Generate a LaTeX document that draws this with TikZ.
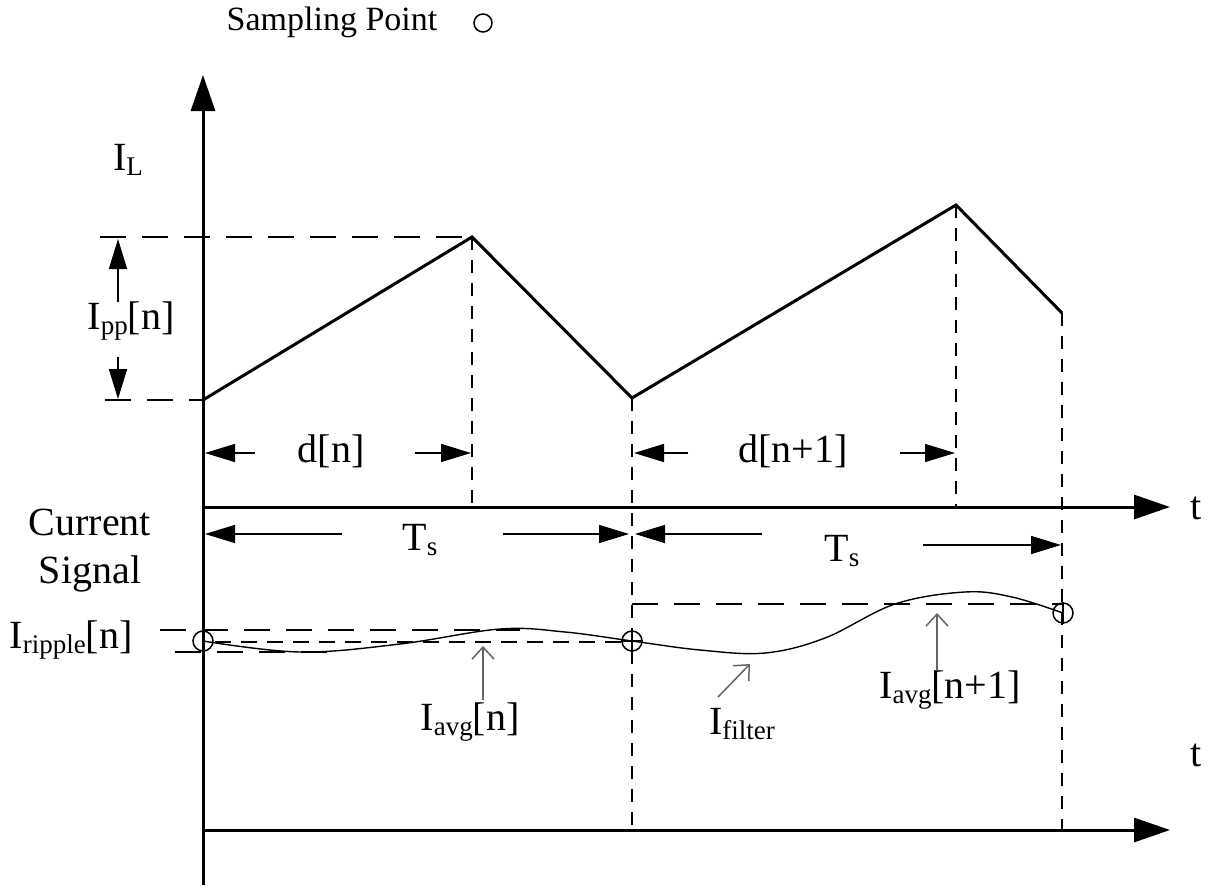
\documentclass[tikz,border=0pt]{standalone}
\usepackage{fontspec}
\setmainfont{Liberation Serif}
\usetikzlibrary{arrows.meta}
\newcommand\lo[1]{\raisebox{-0.3ex}{\fontsize{27}{30}\selectfont #1}}
\begin{document}
\begin{tikzpicture}[x=1pt,y=-1pt,
  axisline/.style={line width=3pt,-{Triangle[length=36pt,width=24pt]}},
  wave/.style={line width=3pt,line join=miter},
  hdash/.style={line width=2pt,dash pattern=on 26pt off 16pt},
  sdash/.style={line width=2pt,dash pattern=on 16pt off 10pt},
  vdash/.style={line width=2pt,dash pattern=on 13pt off 10pt},
  dimarrow/.style={line width=1.6pt,-{Triangle[length=30pt,width=18pt]}},
  pointer/.style={line width=1.5pt,black!60,-{Straight Barb[length=12pt,width=22pt]}},
  lbl/.style={font=\fontsize{40}{46}\selectfont,inner sep=0pt},
  sample/.style={circle,draw,line width=1.5pt,minimum size=20pt,inner sep=0pt}]
\useasboundingbox (0,0) rectangle (1210,886);
% axes
\coordinate (O) at (203,885);
\coordinate (Ytop) at (203,75);
\coordinate (A0) at (203,507);
\coordinate (A1) at (1170,507);
\coordinate (B0) at (203,830);
\coordinate (B1) at (1170,830);
\draw[axisline] (O) -- (Ytop);
\draw[axisline] (A0) -- (A1);
\draw[axisline] (B0) -- (B1);
% inductor current
\coordinate (p0) at (203,400);
\coordinate (p1) at (472,237);
\coordinate (p2) at (632,398);
\coordinate (p3) at (956,205);
\coordinate (p4) at (1062,313);
\draw[wave] (p0) -- (p1) -- (p2) -- (p3) -- (p4);
% dashed guides
\coordinate (h1) at (100,237);
\coordinate (h2) at (105,400);
\draw[hdash] (h1) -- (p1);
\draw[hdash] (h2) -- (p0);
\coordinate (v1) at (472,507);
\coordinate (v2) at (632,830);
\coordinate (v3) at (956,507);
\coordinate (v4) at (1062,830);
\draw[vdash] (p1) -- (v1);
\draw[vdash] (p2) -- (v2);
\draw[vdash] (p3) -- (v3);
\draw[vdash] (p4) -- (v4);
% Ipp
\coordinate (ppa) at (118,302);
\coordinate (ppb) at (118,239);
\coordinate (ppc) at (118,357);
\coordinate (ppd) at (118,399);
\draw[dimarrow] (ppa) -- (ppb);
\draw[dimarrow] (ppc) -- (ppd);
\node[lbl] (ipp) at (131,321) {I\lo{pp}[n]};
\node[lbl] (il) at (128,160) {I\lo{L}};
% d[n]
\coordinate (dn0) at (255,453);
\coordinate (dn1) at (205,453);
\coordinate (dn2) at (415,453);
\coordinate (dn3) at (471,453);
\draw[dimarrow] (dn0) -- (dn1);
\draw[dimarrow] (dn2) -- (dn3);
\node[lbl] (dn) at (331,451) {d[n]};
\coordinate (dm0) at (688,453);
\coordinate (dm1) at (634,453);
\coordinate (dm2) at (900,453);
\coordinate (dm3) at (955,453);
\draw[dimarrow] (dm0) -- (dm1);
\draw[dimarrow] (dm2) -- (dm3);
\node[lbl] (dm) at (793,451) {d[n+1]};
% Ts
\coordinate (t0) at (342,534);
\coordinate (t1) at (205,534);
\coordinate (t2) at (503,534);
\coordinate (t3) at (629,534);
\draw[dimarrow] (t0) -- (t1);
\draw[dimarrow] (t2) -- (t3);
\node[lbl] (ts1) at (420,540) {T\lo{s}};
\coordinate (u0) at (762,534);
\coordinate (u1) at (635,534);
\coordinate (u2) at (923,545);
\coordinate (u3) at (1061,545);
\draw[dimarrow] (u0) -- (u1);
\draw[dimarrow] (u2) -- (u3);
\node[lbl] (ts2) at (842,551) {T\lo{s}};
% labels
\node[lbl,align=center] (cs) at (90,551) {Current\\[2pt]Signal};
\node[lbl] (tt1) at (1196,508) {t};
\node[lbl] (tt2) at (1196,755) {t};
\node[lbl] (irip) at (71,640) {I\lo{ripple}[n]};
\node[font=\fontsize{34}{38}\selectfont,inner sep=0pt] (sp) at (332,22) {Sampling Point};
\node[sample,minimum size=18pt] (spc) at (483,23) {};
% lower region dashed lines
\coordinate (r0) at (160,630);
\coordinate (r1) at (520,630);
\coordinate (r2) at (175,652);
\coordinate (r3) at (335,652);
\draw[hdash] (r0) -- (r1);
\draw[hdash] (r2) -- (r3);
\coordinate (a0) at (215,642);
\coordinate (a1) at (622,642);
\draw[sdash] (a0) -- (a1);
\coordinate (c0) at (632,604);
\coordinate (c1) at (1062,604);
\draw[hdash] (c0) -- (c1);
% filter curve
\coordinate (s0) at (203,641);
\coordinate (s1) at (632,641);
\coordinate (s2) at (1063,613);
\draw[line width=1.4pt] plot[smooth,tension=0.6] coordinates
 {(s0) (300,652) (400,644) (500,629) (565,632) (s1) (700,650) (765,653) (825,638) (895,604) (965,592) (1012,597) (s2)};
\node[sample] (sm0) at (s0) {};
\node[sample] (sm1) at (s1) {};
\node[sample] (sm2) at (s2) {};
\draw[line width=1.5pt] (sm1.north) -- (sm1.south) (sm1.west) -- (sm1.east);
\draw[line width=1.5pt] (sm2.north) -- (sm2.south);
% pointers
\node[lbl] (iavg) at (470,722) {I\lo{avg}[n]};
\node[lbl] (ifil) at (742,724) {I\lo{filter}};
\node[lbl] (iavg2) at (950,690) {I\lo{avg}[n+1]};
\coordinate (q0) at (483,700);
\coordinate (q1) at (483,646);
\coordinate (q2) at (718,697);
\coordinate (q3) at (750,664);
\coordinate (q4) at (937,670);
\coordinate (q5) at (937,613);
\draw[pointer] (q0) -- (q1);
\draw[pointer] (q2) -- (q3);
\draw[pointer] (q4) -- (q5);
\end{tikzpicture}
\end{document}
